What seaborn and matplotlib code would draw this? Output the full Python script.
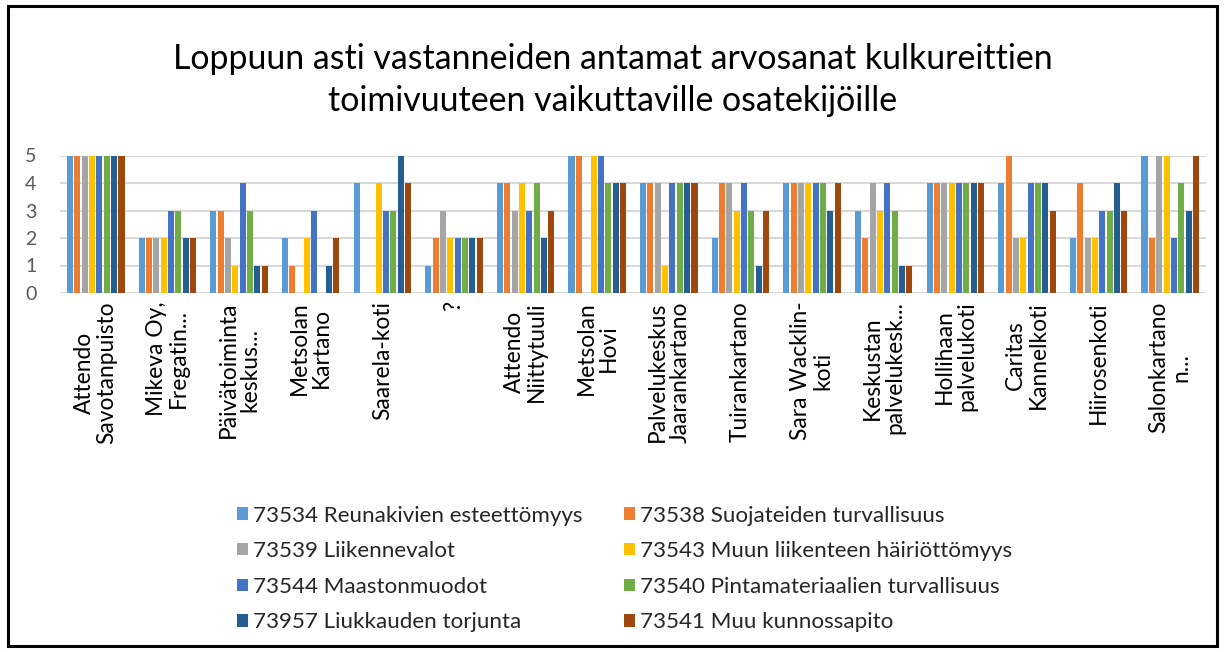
import matplotlib
matplotlib.use("Agg")
import matplotlib.pyplot as plt
import seaborn as sns
import pandas as pd
from matplotlib.patches import Rectangle

categories = [
    "Attendo\nSavotanpuisto", "Mikeva Oy,\nFregatin...", "Päivätoiminta\nkeskus...",
    "Metsolan\nKartano", "Saarela-koti", "?", "Attendo\nNiittytuuli", "Metsolan\nHovi",
    "Palvelukeskus\nJaarankartano", "Tuirankartano", "Sara Wacklin-\nkoti",
    "Keskustan\npalvelukesk...", "Hollihaan\npalvelukoti", "Caritas\nKannelkoti",
    "Hiirosenkoti", "Salonkartano\nn...",
]

series_names = [
    "73534 Reunakivien esteettömyys",
    "73538 Suojateiden turvallisuus",
    "73539 Liikennevalot",
    "73543 Muun liikenteen häiriöttömyys",
    "73544 Maastonmuodot",
    "73540 Pintamateriaalien turvallisuus",
    "73957 Liukkauden torjunta",
    "73541 Muu kunnossapito",
]

s73534 = [5, 2, 3, 2, 4, 1, 4, 5, 4, 2, 4, 3, 4, 4, 2, 5]
s73538 = [5, 2, 3, 1, 0, 2, 4, 5, 4, 4, 4, 2, 4, 5, 4, 2]
s73539 = [5, 2, 2, 0, 0, 3, 3, 0, 4, 4, 4, 4, 4, 2, 2, 5]
s73543 = [5, 2, 1, 2, 4, 2, 4, 5, 1, 3, 4, 3, 4, 2, 2, 5]
s73544 = [5, 3, 4, 3, 3, 2, 3, 5, 4, 4, 4, 4, 4, 4, 3, 2]
s73540 = [5, 3, 3, 0, 3, 2, 4, 4, 4, 3, 4, 3, 4, 4, 3, 4]
s73957 = [5, 2, 1, 1, 5, 2, 2, 4, 4, 1, 3, 1, 4, 4, 4, 3]
s73541 = [5, 2, 1, 2, 4, 2, 3, 4, 4, 3, 4, 1, 4, 3, 3, 5]

series_values = [s73534, s73538, s73539, s73543, s73544, s73540, s73957, s73541]
colors = ["#5B9BD5", "#ED7D31", "#A5A5A5", "#FFC000", "#4472C4", "#70AD47", "#255E91", "#9E480E"]

rows = []
for name, vals in zip(series_names, series_values):
    for c, v in zip(categories, vals):
        rows.append({"cat": c, "series": name, "value": v})
df = pd.DataFrame(rows)

sns.set_theme(style="white")
plt.rcParams["font.family"] = ["Lato", "DejaVu Sans"]

W, H = 1225, 652
fig = plt.figure(figsize=(W / 100, H / 100), dpi=100)
ax = fig.add_axes([60 / W, 1 - 293 / H, (1206 - 60) / W, (293 - 155.5) / H])

sns.barplot(data=df, x="cat", y="value", hue="series", order=categories,
            hue_order=series_names, palette=colors, width=0.82, gap=0.18,
            ax=ax, legend=True, saturation=1, linewidth=0)

ax.set_ylim(0, 5)
ax.set_xlim(-0.5, len(categories) - 0.5)
ax.set_yticks([0, 1, 2, 3, 4, 5])
ax.yaxis.grid(True, color="#D9D9D9", linewidth=1.5)
ax.set_axisbelow(True)
for s in ax.spines.values():
    s.set_visible(False)
ax.set_xlabel("")
ax.set_ylabel("")
ax.tick_params(axis="y", length=0, pad=17, labelsize=14, labelcolor="#595959")
ax.tick_params(axis="x", length=0, pad=6, labelsize=16.4, labelcolor="#000000")
for lab in ax.get_xticklabels():
    lab.set_rotation(90)
    lab.set_ha("center")
    lab.set_va("top")
    lab.set_multialignment("center")
    lab.set_linespacing(1.08)

handles, labels = ax.get_legend_handles_labels()
ax.get_legend().remove()
order = [0, 2, 4, 6, 1, 3, 5, 7]
fig.legend([handles[i] for i in order], [labels[i] for i in order],
           loc="center", bbox_to_anchor=(0.51, 1 - 569 / H), ncol=2,
           frameon=False, fontsize=16.1, handlelength=0.47, handleheight=0.47,
           handletextpad=0.25, columnspacing=1.85, labelspacing=0.7)

fig.text(0.5, 1 - 80 / H, "Loppuun asti vastanneiden antamat arvosanat kulkureittien\ntoimivuuteen vaikuttaville osatekijöille",
         ha="center", va="center", fontsize=24.4, color="#000000", linespacing=1.4)

fig.patches.append(Rectangle((8 / W, 6 / H), (1217 - 8) / W, (646 - 6) / H,
                             transform=fig.transFigure, fill=False,
                             edgecolor="black", linewidth=2.2))

fig.savefig("out.png", dpi=100)
